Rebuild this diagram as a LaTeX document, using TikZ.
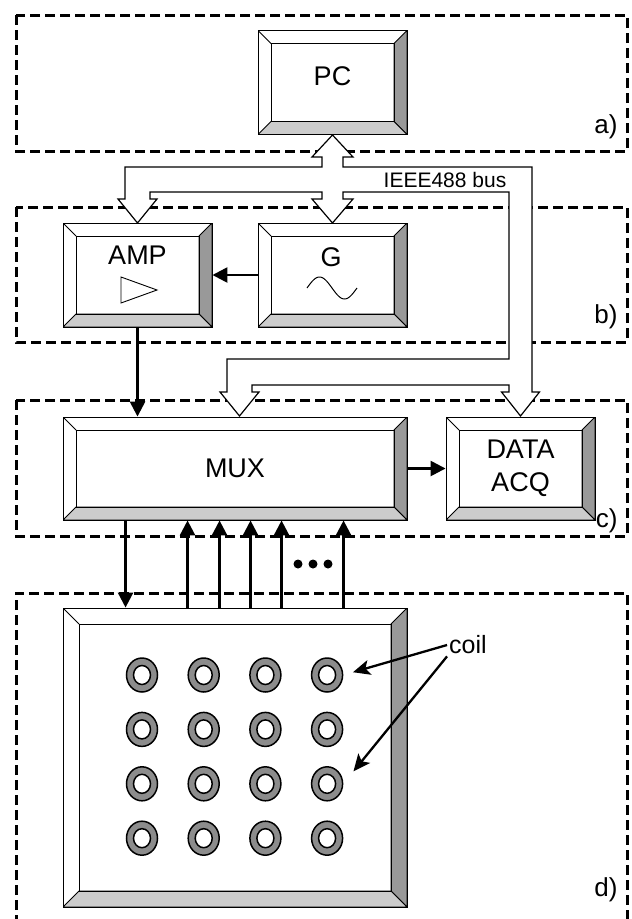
\documentclass[tikz,border=0pt]{standalone}
\usepackage{fontspec}
\setmainfont{Liberation Sans}
\usetikzlibrary{arrows.meta,shapes.geometric}
\definecolor{bevdark}{HTML}{999999}
\definecolor{bevlight}{HTML}{CCCCCC}
\definecolor{ringgray}{HTML}{8C8C8C}

\begin{document}
\begin{tikzpicture}[
  x=1pt,y=-1pt,
  font=\fontsize{27}{33}\selectfont,
  zone/.style={line width=3pt,dash pattern=on 10pt off 5pt},
  box/.style={draw,fill=white,line width=0.9pt,align=center,inner sep=0pt,
              minimum width=149pt,minimum height=104pt,
              path picture={
                \path (path picture bounding box.south west) coordinate (bsw)
                      (path picture bounding box.north east) coordinate (bne)
                      (path picture bounding box.north west) coordinate (bnw)
                      (path picture bounding box.south east) coordinate (bse);
                \filldraw[fill=bevdark,line width=0.9pt] (bne) -- (bse)
                  -- ([shift={(-#1pt,#1pt)}]bse) -- ([shift={(-#1pt,-#1pt)}]bne) -- cycle;
                \filldraw[fill=bevlight,line width=0.9pt] (bsw) -- (bse)
                  -- ([shift={(-#1pt,#1pt)}]bse) -- ([shift={(#1pt,#1pt)}]bsw) -- cycle;
                \draw[line width=0.9pt] (bnw) -- ([shift={(#1pt,-#1pt)}]bnw);
                \draw[line width=0.9pt] ([shift={(#1pt,#1pt)}]bsw)
                  rectangle ([shift={(-#1pt,-#1pt)}]bne);
              }},
  box/.default=13,
  lbl/.style={anchor=base east,font=\fontsize{26}{30}\selectfont},
  bus/.style={draw=black,fill=white,line width=1.2pt,line join=miter},
  sig/.style={line width=2.5pt,-{Triangle[length=15pt,width=15pt]}},
  ptr/.style={line width=2.3pt,-{Stealth[length=17pt,width=15pt,inset=4pt]}},
  coil/.style={ellipse,draw,fill=ringgray,line width=1.5pt,inner sep=0pt,
               minimum width=31pt,minimum height=34pt},
  hole/.style={ellipse,draw,fill=white,line width=1.5pt,inner sep=0pt,
               minimum width=17pt,minimum height=19pt},
]
  \useasboundingbox (0,0) rectangle (632,919);

  \draw[zone] (16,15) rectangle (627,151);
  \draw[zone] (16,207) rectangle (627,342);
  \draw[zone] (16,400) rectangle (627,536);
  \draw[zone] (16,925) -- (16,593) -- (627,593) -- (627,925);

  \node[lbl] (la) at (621,133) {a)};
  \node[lbl] (lb) at (621,323) {b)};
  \node[lbl] (lc) at (621,527) {c)};
  \node[lbl] (ld) at (621,896) {d)};

  \node[box] (pc) at (332.5,82.5) [label={[yshift=6pt]center:PC}] {};
  \node[box] (amp) at (137.5,275) {};
  \node (amptxt) at (137.5,255) {AMP};
  \draw[line width=0.9pt] (121,277) -- (157,290) -- (121,303) -- cycle;
  \node[box] (gen) at (332.5,275) {};
  \node (gentxt) at (331,257) {G};
  \draw[line width=1pt] plot[domain=0:360,samples=50]
    ({307+\x/360*50},{288-11*sin(\x)});
  \node[box,minimum width=344pt,minimum height=103pt] (mux) at (235,468.5) {MUX};
  \node[box,minimum height=103pt] (daq) at (520.5,468.5) {DATA\\ACQ};
  \node[box=16,minimum width=344pt,minimum height=299pt] (board) at (235,757.5) {};

  \draw[bus] (332.5,135) -- (353,157) -- (343,157) -- (343,167) -- (532,167)
    -- (532,392) -- (539.5,392) -- (520.5,416) -- (501.5,392) -- (509,392)
    -- (509,385) -- (252,385) -- (252,392) -- (259,392) -- (239.5,416)
    -- (220,392) -- (227,392) -- (227,359) -- (509,359) -- (509,192)
    -- (343,192) -- (343,199) -- (353,199) -- (332.5,223) -- (312,199)
    -- (322,199) -- (322,192) -- (150,192) -- (150,199) -- (157,199)
    -- (137.5,223) -- (118,199) -- (125,199) -- (125,167) -- (322,167)
    -- (322,157) -- (312,157) -- cycle;
  \node[font=\fontsize{21}{25}\selectfont] (buslbl) at (445,180) {IEEE488 bus};

  \draw[sig] (gen) -- (amp);
  \draw[sig] (amp) -- (amp |- mux.north);
  \draw[sig] (mux) -- (daq);
  \draw[sig] ([xshift=63]mux.south west) -- ([xshift=63]board.north west);
  \foreach \dx in {125,157,188,219,281}
    \draw[sig] ([xshift=\dx]board.north west) -- ([xshift=\dx]mux.south west);
  \foreach \xx in {298,313,328}
    \fill (\xx,564) circle (4.5);

  \foreach \i in {0,...,3}
    \foreach \j in {0,...,3} {
      \node[coil] (c\i\j) at ({142+61.7*\i},{675+54.4*\j}) {};
      \node[hole] at (c\i\j) {};
    }

  \node[font=\fontsize{25}{30}\selectfont,inner sep=2pt] (coillbl) at (468,645) {coil};
  \draw[ptr,shorten >=10pt] (coillbl.west) -- (c30.east);
  \draw[ptr,shorten >=16pt] (coillbl.south west) -- (c32.east);
\end{tikzpicture}
\end{document}
